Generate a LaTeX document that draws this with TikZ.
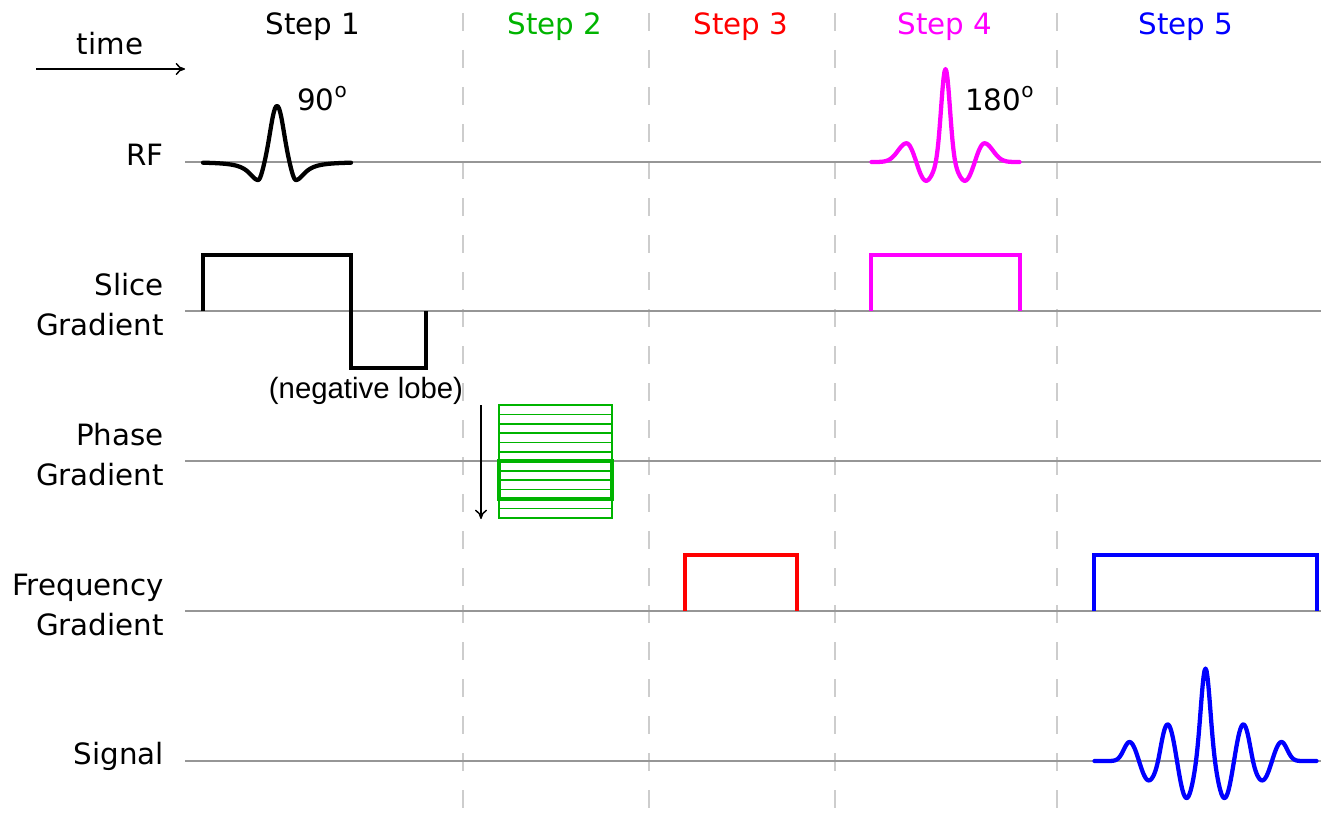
\documentclass[tikz,border=0pt]{standalone}
\usepackage{fontspec}
\setmainfont{DejaVu Sans}
\newfontfamily\arialfont{Liberation Sans}
\usetikzlibrary{arrows.meta}
\definecolor{axisgray}{RGB}{150,150,150}
\definecolor{dashgray}{RGB}{205,205,205}
\definecolor{stepgreen}{RGB}{0,180,0}
\definecolor{stepred}{RGB}{255,0,0}
\definecolor{stepmag}{RGB}{255,0,255}
\definecolor{stepblue}{RGB}{0,0,255}
\begin{document}
\begin{tikzpicture}[x=0.75pt,y=-0.75pt,
  declare function={
    gss(\v)=exp(-min(\v*\v,9));
    sstp(\u)=1/(1+exp(max(min((\u-47.5)/2.5,9),-9)));
    rfa(\x)=ifthenelse(abs(\x)<19,
       cos(180*((abs(\x)+0.001)/19)^1.654)*(18+38*gss(\x/8)),
       -18/(1+((abs(\x)-19)/11)^2));
    rfb(\x)=ifthenelse(abs(\x)<39,
       cos((180/19.5)*\x)*(18.7+74.3*gss(\x/7.5)),
       18.7*gss((abs(\x)-39)/12));
    sigf(\x)=ifthenelse(abs(\x)<76,
       cos((180/19)*\x)*(19+18*sstp(abs(\x))+55.5*gss(\x/7.5)),
       19*gss((abs(\x)-76)/8));
  },
  lbl/.style={inner sep=0pt, font=\fontsize{22}{26}\selectfont},
  steplbl/.style={lbl, anchor=base},
  rowlbl/.style={lbl, anchor=base east},
  axisline/.style={draw=axisgray, line width=1.5pt},
  sepline/.style={draw=dashgray, line width=1.1pt, dash pattern=on 13.5pt off 14.25pt},
  pulse/.style={line width=3.2pt, line join=round, line cap=round},
  gradbox/.style={line width=2.6pt, line join=miter},
  stripe/.style={draw=stepgreen, line width=1.3pt},
  thinarrow/.style={draw=black, line width=1.1pt, -{To[length=7pt,width=9pt]}}]
\useasboundingbox (0,0) rectangle (1321,817);

% separators
\foreach \x in {463,649,835,1057} \draw[sepline] (\x,13) -- (\x,817);
% axes
\foreach \y in {162,311,461,611,761} \draw[axisline] (185,\y) -- (1321,\y);

% time arrow
\node[lbl, anchor=base] (timelbl) at (110,55) {time};
\coordinate (t0) at (36,69);
\coordinate (t1) at (185,69);
\draw[thinarrow] (t0) -- (t1);

% step labels
\node[steplbl] (s1) at (313,35) {Step 1};
\node[steplbl, text=stepgreen] (s2) at (555,35) {Step 2};
\node[steplbl, text=stepred] (s3) at (741,35) {Step 3};
\node[steplbl, text=stepmag] (s4) at (945,35) {Step 4};
\node[steplbl, text=stepblue] (s5) at (1186,35) {Step 5};

% row labels
\node[rowlbl] (rf) at (164,165) {RF};
\node[rowlbl] (slice1) at (164,295) {Slice};
\node[rowlbl] (slice2) at (164,335) {Gradient};
\node[rowlbl] (phase1) at (164,445) {Phase};
\node[rowlbl] (phase2) at (164,485) {Gradient};
\node[rowlbl] (freq1) at (164,595) {Frequency};
\node[rowlbl] (freq2) at (164,635) {Gradient};
\node[rowlbl] (sig) at (164,764) {Signal};

% flip-angle labels
\node[lbl, anchor=base west] (a90) at (297,110) {90\raisebox{9.5pt}{\fontsize{15}{15}\selectfont o}};
\node[lbl, anchor=base west] (a180) at (965,110) {180\raisebox{9.5pt}{\fontsize{15}{15}\selectfont o}};
\node[inner sep=0pt, anchor=base, font=\arialfont\fontsize{22}{26}\selectfont] (neg) at (366,398) {(negative lobe)};

% RF 90 pulse
\begin{scope}[shift={(277,162)}, yscale=-1]
\draw[pulse] plot[domain=-74:74, samples=149] (\x,{rfa(\x)});
\end{scope}

% RF 180 pulse
\begin{scope}[shift={(945.5,162)}, yscale=-1]
\draw[pulse, draw=stepmag] plot[domain=-74:74, samples=149] (\x,{rfb(\x)});
\end{scope}

% Signal echo
\begin{scope}[shift={(1205.5,761)}, yscale=-1]
\draw[pulse, draw=stepblue] plot[domain=-111:111, samples=223] (\x,{sigf(\x)});
\end{scope}

% slice gradients
\draw[gradbox] (203,311) -- (203,255) -- (351,255) -- (351,368) -- (426,368) -- (426,311);
\draw[gradbox, draw=stepmag] (871,311) -- (871,255) -- (1020,255) -- (1020,311);
% frequency gradients
\draw[gradbox, draw=stepred] (685,611) -- (685,555) -- (797,555) -- (797,611);
\draw[gradbox, draw=stepblue] (1094,611) -- (1094,555) -- (1317,555) -- (1317,611);

% phase gradient table
\foreach \k in {0,...,11} \draw[stripe] (499,{405+\k*9.4}) rectangle (612,{405+(\k+1)*9.4});
\draw[gradbox, draw=stepgreen] (499,461) rectangle (612,499);
\coordinate (p0) at (481,405);
\coordinate (p1) at (481,519);
\draw[thinarrow] (p0) -- (p1);
\end{tikzpicture}
\end{document}
